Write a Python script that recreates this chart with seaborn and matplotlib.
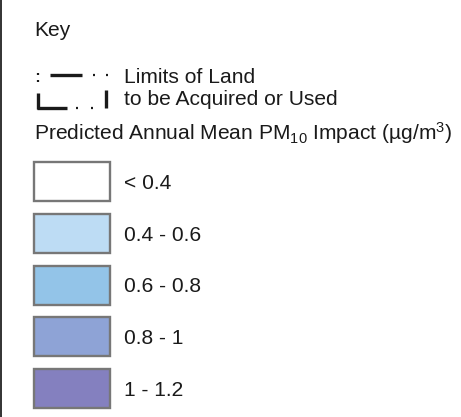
import matplotlib
matplotlib.use("Agg")
import matplotlib.pyplot as plt
import seaborn as sns
import pandas as pd

# ---- data ----
title = "Key"
limits_label = ["Limits of Land", "to be Acquired or Used"]
scale_title = r"Predicted Annual Mean PM$_{10}$ Impact (µg/m$^{3}$)"
classes = ["< 0.4", "0.4 - 0.6", "0.6 - 0.8", "0.8 - 1", "1 - 1.2"]
class_colors = ["#ffffff", "#bddcf4", "#93c4e8", "#8ea3d6", "#8480bf"]
swatch_value = [1, 1, 1, 1, 1]

sns.set_theme(style="white")
plt.rcParams["font.family"] = ["Liberation Sans", "DejaVu Sans"]
plt.rcParams["mathtext.fontset"] = "custom"
plt.rcParams["mathtext.rm"] = "Liberation Sans"
plt.rcParams["mathtext.it"] = "Liberation Sans:italic"
plt.rcParams["mathtext.bf"] = "Liberation Sans:bold"

W, H = 461, 417
fig = plt.figure(figsize=(W / 100, H / 100), dpi=100)
fig.patch.set_facecolor("white")

# background axes in pixel coordinates
bg = fig.add_axes([0, 0, 1, 1])
bg.set_xlim(0, W)
bg.set_ylim(H, 0)
bg.axis("off")

# left border
bg.plot([0.8, 0.8], [0, H], color="#222222", lw=1.3, solid_capstyle="butt")

fs = 15.1
tc = "#1a1a1a"
bg.text(34, 35.5, title, fontsize=fs, color=tc, va="baseline", ha="left")
bg.text(124, 82.7, limits_label[0], fontsize=fs, color=tc, va="baseline", ha="left")
bg.text(124, 104.5, limits_label[1], fontsize=fs, color=tc, va="baseline", ha="left")
bg.text(34, 140, scale_title, fontsize=fs, color=tc, va="baseline", ha="left")

# limits of land symbol (dash-dot boundary)
lc = "#1a1a1a"
bg.plot([37.5, 37.5], [73, 75], color=lc, lw=1.6, solid_capstyle="butt")
bg.plot([37.5, 37.5], [79.5, 81.5], color=lc, lw=1.6, solid_capstyle="butt")
bg.plot([50, 82], [75, 75], color=lc, lw=2.4, solid_capstyle="butt")
for x in (94, 107):
    bg.plot([x - 1, x + 1], [75, 75], color=lc, lw=1.6, solid_capstyle="butt")
bg.plot([37.5, 37.5], [93, 109], color=lc, lw=2.4, solid_capstyle="butt")
bg.plot([36.5, 67], [108, 108], color=lc, lw=2.4, solid_capstyle="butt")
for x in (77, 92):
    bg.plot([x - 1, x + 1], [107.5, 107.5], color=lc, lw=1.6, solid_capstyle="butt")
bg.plot([105.5, 105.5], [90, 108], color=lc, lw=2.4, solid_capstyle="butt")

# swatches via seaborn barplot
x0, x1 = 34.0, 110.0
c0, c4 = 181.5, 388.5
pitch = (c4 - c0) / 4
ytop = c0 - pitch / 2
ybot = c4 + pitch / 2
ax = fig.add_axes([x0 / W, 1 - ybot / H, (x1 - x0) / W, (ybot - ytop) / H])
df = pd.DataFrame({"cls": classes, "v": swatch_value})
sns.barplot(data=df, y="cls", x="v", hue="cls", palette=class_colors,
            orient="h", width=39 / pitch, edgecolor="#777777", linewidth=1.7,
            legend=False, ax=ax, saturation=1)
for p in ax.patches:
    p.set_clip_on(False)
ax.set_xlim(0, 1)
ax.set_ylim(len(classes) - 0.5, -0.5)
ax.axis("off")
off = (124 - x1) / (x1 - x0)
for i, lab in enumerate(classes):
    ax.text(1 + off, i, lab, fontsize=fs, color=tc, va="center_baseline", ha="left")

fig.savefig("out.png", dpi=100, facecolor="white")
